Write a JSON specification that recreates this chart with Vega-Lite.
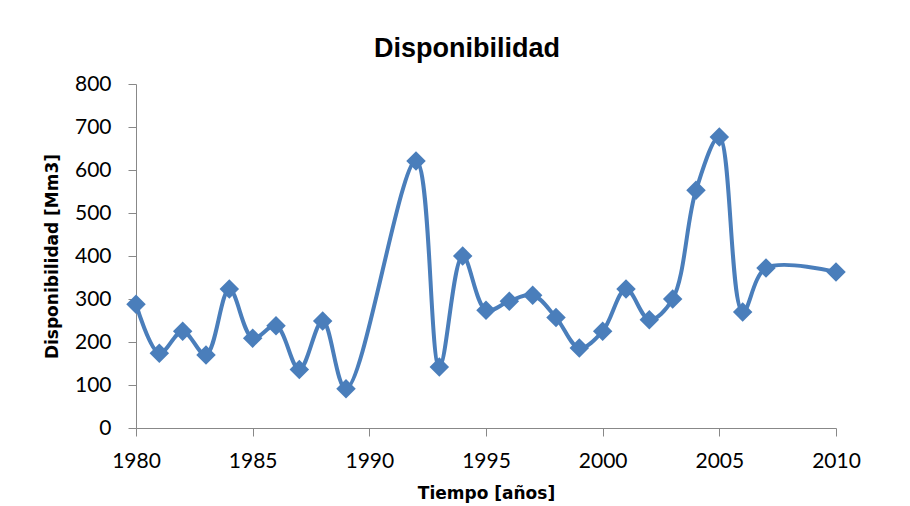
{
  "$schema": "https://vega.github.io/schema/vega-lite/v6.json",
  "width": 700,
  "height": 344,
  "autosize": {"type": "none"},
  "padding": {"left": 136, "top": 84, "right": 74, "bottom": 78},
  "background": "white",
  "config": {"view": {"stroke": null}},
  "title": {
    "text": "Disponibilidad",
    "font": "Liberation Sans",
    "fontSize": 27,
    "fontWeight": "bold",
    "color": "#000000",
    "anchor": "middle",
    "offset": 10,
    "dx": -19
  },
  "data": {
    "values": [
      {"anio": 1980, "valor": 288},
      {"anio": 1981, "valor": 174},
      {"anio": 1982, "valor": 225},
      {"anio": 1983, "valor": 170},
      {"anio": 1984, "valor": 323},
      {"anio": 1985, "valor": 209},
      {"anio": 1986, "valor": 238},
      {"anio": 1987, "valor": 136},
      {"anio": 1988, "valor": 249},
      {"anio": 1989, "valor": 91},
      {"anio": 1992, "valor": 621},
      {"anio": 1993, "valor": 142},
      {"anio": 1994, "valor": 400},
      {"anio": 1995, "valor": 274},
      {"anio": 1996, "valor": 295},
      {"anio": 1997, "valor": 309},
      {"anio": 1998, "valor": 257},
      {"anio": 1999, "valor": 186},
      {"anio": 2000, "valor": 225},
      {"anio": 2001, "valor": 323},
      {"anio": 2002, "valor": 252},
      {"anio": 2003, "valor": 300},
      {"anio": 2004, "valor": 553},
      {"anio": 2005, "valor": 677},
      {"anio": 2006, "valor": 270},
      {"anio": 2007, "valor": 372},
      {"anio": 2010, "valor": 363}
    ]
  },
  "encoding": {
    "x": {
      "field": "anio",
      "type": "quantitative",
      "scale": {"domain": [1980, 2010], "nice": false, "zero": false},
      "axis": {
        "title": "Tiempo [años]",
        "titleFont": "DejaVu Sans",
        "titleFontSize": 17,
        "titleFontWeight": "bold",
        "titleColor": "#000000",
        "titlePadding": 14,
        "labelFont": "Lato",
        "labelFontSize": 21,
        "labelColor": "#000000",
        "labelPadding": 14,
        "labelFlush": false,
        "labelOverlap": false,
        "values": [1980, 1985, 1990, 1995, 2000, 2005, 2010],
        "format": "d",
        "grid": false,
        "domainColor": "#888888",
        "tickColor": "#888888",
        "tickSize": 8
      }
    },
    "y": {
      "field": "valor",
      "type": "quantitative",
      "scale": {"domain": [0, 800], "nice": false},
      "axis": {
        "title": "Disponibilidad [Mm3]",
        "titleFont": "DejaVu Sans",
        "titleFontSize": 17,
        "titleFontWeight": "bold",
        "titleColor": "#000000",
        "titlePadding": 13,
        "labelFont": "Lato",
        "labelFontSize": 21,
        "labelColor": "#000000",
        "labelPadding": 17,
        "labelFlush": false,
        "values": [0, 100, 200, 300, 400, 500, 600, 700, 800],
        "grid": false,
        "domainColor": "#888888",
        "tickColor": "#888888",
        "tickSize": 8
      }
    }
  },
  "layer": [
    {
      "mark": {"type": "line", "interpolate": "catmull-rom", "color": "#4a7ebb", "strokeWidth": 4}
    },
    {
      "mark": {"type": "point", "shape": "diamond", "filled": true, "size": 380, "color": "#4a7ebb", "opacity": 1}
    }
  ]
}
